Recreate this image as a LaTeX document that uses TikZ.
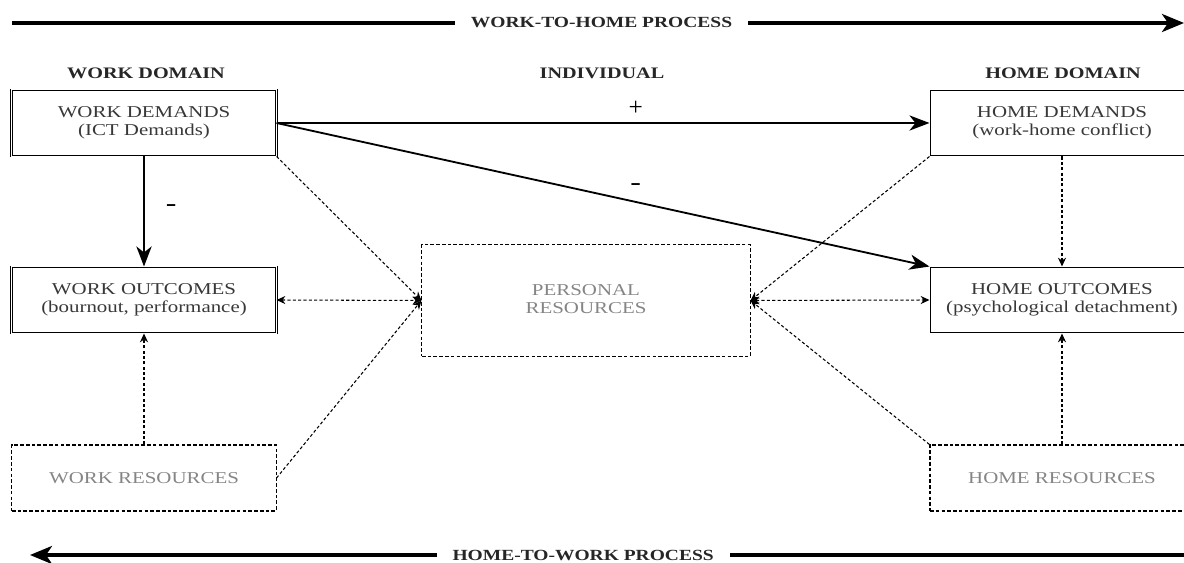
\documentclass[tikz,border=0pt]{standalone}
\usepackage{fontspec}
\setmainfont{Liberation Serif}
\usepackage{graphicx}
\usetikzlibrary{arrows.meta}

\newcommand{\widetxt}[1]{\scalebox{1.26}[1]{#1}}
\newcommand{\twolines}[2]{\widetxt{\begin{tabular}{@{}c@{}}#1\\#2\end{tabular}}}

\begin{document}
\begin{tikzpicture}[x=0.025cm, y=-0.025cm,
    boxfont/.style={font=\fontsize{11.8}{12.8}\selectfont},
    mainbox/.style={draw, double, line width=0.7pt, double distance=0.7pt, minimum width=6.6cm, minimum height=1.65cm, inner sep=0pt, text=black!78, boxfont},
    resbox/.style={draw, dash pattern=on 2.6pt off 1.5pt, line width=0.75pt, minimum width=6.6cm, minimum height=1.65cm, inner sep=0pt, text=black!48, boxfont},
    domhead/.style={font=\bfseries\fontsize{11.4}{12}\selectfont, text=black!85},
    process/.style={fill=white, inner xsep=0.4cm, font=\bfseries\fontsize{11}{12}\selectfont, text=black!85},
    processarrow/.style={-{Stealth[length=0.55cm, width=0.45cm, inset=0.15cm]}, line width=2.4pt},
    flow/.style={-{Stealth[length=0.5cm, width=0.38cm, inset=0.15cm]}, line width=1.3pt},
    link/.style={-{Stealth[length=0.22cm, width=0.2cm]}, dash pattern=on 2.2pt off 1.6pt, line width=0.75pt},
    twolink/.style={{Stealth[length=0.22cm, width=0.2cm]}-{Stealth[length=0.22cm, width=0.2cm]}, dash pattern=on 2.2pt off 1.6pt, line width=0.75pt},
    sign/.style={font=\fontsize{18}{20}\selectfont}]

    \useasboundingbox (0,0) rectangle (1184,563);

    % Processes
    \coordinate (w2hstart) at (12,23);
    \coordinate (w2hend) at (1184,23);
    \draw[processarrow] (w2hstart) -- (w2hend)
        node[process, pos=0.503] (w2h) {\widetxt{WORK-TO-HOME PROCESS}};
    \coordinate (h2wstart) at (1192,555);
    \coordinate (h2wend) at (30,555);
    \draw[processarrow] (h2wstart) -- (h2wend)
        node[process, pos=0.524] (h2w) {\widetxt{HOME-TO-WORK PROCESS}};

    % Headers
    \node[domhead] (workdom) at (146,73) {\widetxt{WORK DOMAIN}};
    \node[domhead] (indiv) at (602,73) {\widetxt{INDIVIDUAL}};
    \node[domhead] (homedom) at (1063,73) {\widetxt{HOME DOMAIN}};

    % Work domain
    \node[mainbox] (wd) at (144,123) {\twolines{WORK DEMANDS}{(ICT Demands)}};
    \node[mainbox] (wo) at (144,300) {\twolines{WORK OUTCOMES}{(bournout, performance)}};
    \node[resbox] (wr) at (144,478) {\widetxt{WORK RESOURCES}};

    % Individual
    \node[resbox, minimum width=8.2cm, minimum height=2.78cm] (pr) at (586,300.5)
        {\twolines{PERSONAL}{RESOURCES}};

    % Home domain
    \node[mainbox] (hd) at (1062,123) {\twolines{HOME DEMANDS}{(work-home conflict)}};
    \node[mainbox] (ho) at (1062,300) {\twolines{HOME OUTCOMES}{(psychological detachment)}};
    \node[resbox] (hr) at (1062,478) {\widetxt{HOME RESOURCES}};

    % Demands
    \draw[flow] (wd.east) -- (hd.west) node[sign, pos=0.55, above=0.05cm] (plus) {+};
    \draw[flow] (wd.east) -- (ho.north west) node[sign, pos=0.55, above=0.15cm] (minus) {\widetxt{-}};
    \draw[flow, line width=1.8pt] (wd.south) -- (wo.north) node[sign, pos=0.47, right=0.4cm] (minusw) {\widetxt{-}};
    \draw[link] (hd.south) -- (ho.north);

    % Resources
    \draw[link] (wd.south east) -- (pr.west);
    \draw[link] (wr.east) -- (pr.west);
    \draw[twolink] (wo.east) -- (pr.west);
    \draw[link] (hd.south west) -- (pr.east);
    \draw[link] (hr.north west) -- (pr.east);
    \draw[twolink] (pr.east) -- (ho.west);
    \draw[link] (wr.north) -- (wo.south);
    \draw[link] (hr.north) -- (ho.south);

\end{tikzpicture}
\end{document}
